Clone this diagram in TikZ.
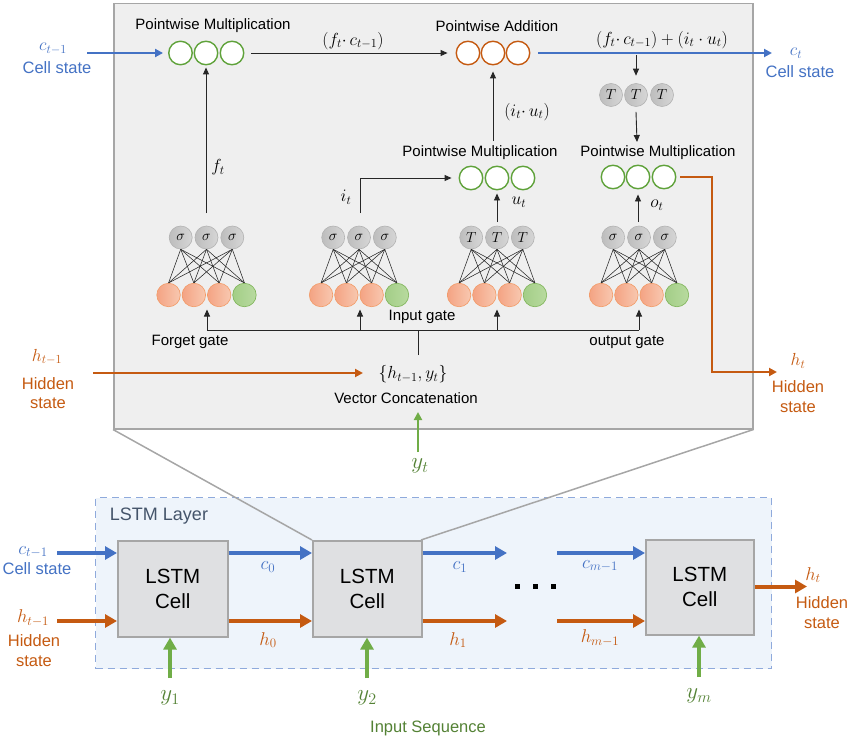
\RequirePackage{fix-cm}
\documentclass[tikz,border=0pt]{standalone}
\usepackage[no-math]{fontspec}
\setmainfont{Liberation Sans}
\usetikzlibrary{arrows.meta}
\definecolor{cblue}{HTML}{4472C4}
\definecolor{corange}{HTML}{C55A11}
\definecolor{cgreen}{HTML}{70AD47}
\definecolor{cdgreen}{HTML}{548235}
\definecolor{panelfill}{HTML}{EFEFEF}
\definecolor{panelline}{HTML}{A6A6A6}
\definecolor{layerfill}{HTML}{EEF4FB}
\definecolor{layerline}{HTML}{8FAADC}
\definecolor{cellfill}{HTML}{DFE0E2}
\definecolor{layertext}{HTML}{44546A}
\definecolor{pmgreen}{HTML}{5FA23A}
\definecolor{orL}{HTML}{F4A383}
\definecolor{orR}{HTML}{F8C8B0}
\definecolor{orD}{HTML}{F29A66}
\definecolor{grL}{HTML}{A3CE87}
\definecolor{grR}{HTML}{B8DA9F}
\definecolor{grD}{HTML}{7DB356}
\definecolor{gyL}{HTML}{BDBDBD}
\definecolor{gyR}{HTML}{D6D6D6}
\definecolor{gyD}{HTML}{B3B3B3}
\newcommand{\setfs}[1]{\fontsize{#1}{#1}\selectfont}
\newcommand{\gatelayer}[3]{%
  \foreach \i in {1,2,3} \node[gc] (#1t\i) at ({#2+(\i-2)*25.8}, 237.5) {$#3$};
  \foreach \j in {1,2,3} \node[oc] (#1b\j) at ({#2+(\j-2.5)*25.3}, 295) {};
  \node[gnc] (#1b4) at ({#2+1.5*25.3}, 295) {};
  \foreach \i in {1,2,3} {\foreach \j in {1,2,3,4} {\draw[net] (#1t\i.south) -- (#1b\j.north);}}
}
\begin{document}
\begin{tikzpicture}[x=1pt,y=-1pt,
  txt/.style={inner sep=0pt, font=\setfs{15}},
  lbl/.style={inner sep=0pt, font=\setfs{16.5}},
  mth/.style={inner sep=0pt, font=\setfs{17.5}},
  bmth/.style={inner sep=0pt, font=\setfs{18.5}},
  ymth/.style={inner sep=0pt, font=\setfs{23}, text=cdgreen},
  pmc/.style={circle, draw=pmgreen, fill=white, line width=1.4pt, minimum size=23.5pt, inner sep=0pt},
  pac/.style={pmc, draw=corange},
  gc/.style={circle, draw=gyD, left color=gyL, right color=gyR, line width=0.6pt, minimum size=23pt, inner sep=0pt, font=\setfs{14.5}},
  oc/.style={circle, draw=orD, left color=orL, right color=orR, line width=0.6pt, minimum size=23.5pt, inner sep=0pt},
  gnc/.style={circle, draw=grD, left color=grL, right color=grR, line width=0.6pt, minimum size=23.5pt, inner sep=0pt},
  net/.style={line width=0.55pt, black!85},
  thinln/.style={line width=0.9pt, black!85},
  thinarr/.style={thinln, -{Triangle[length=7pt,width=6pt]}},
  blarr/.style={line width=2.2pt, cblue, -{Triangle[length=8pt,width=8pt]}},
  orarr/.style={line width=2.2pt, corange, -{Triangle[length=8pt,width=8pt]}},
  garr/.style={line width=2.2pt, cgreen, -{Triangle[length=8pt,width=8pt]}},
  bthick/.style={line width=4pt, cblue, -{Triangle[length=12pt,width=13pt]}},
  othick/.style={line width=4pt, corange, -{Triangle[length=12pt,width=13pt]}},
  gthick/.style={line width=4pt, cgreen, -{Triangle[length=12pt,width=13pt]}},
  panel/.style={draw=panelline, fill=panelfill, line width=1.5pt, inner sep=0pt},
  layer/.style={draw=layerline, fill=layerfill, line width=1.2pt, dash pattern=on 7pt off 5pt, inner sep=0pt},
  cellbox/.style={draw=panelline, fill=cellfill, line width=1.6pt, inner sep=0pt, align=center, font=\fontsize{20.5}{25}\selectfont},
  dotsq/.style={fill=black, inner sep=0pt, minimum size=5pt, rectangle}
]
\useasboundingbox (0,0) rectangle (850,741);

% ---------------- upper panel ----------------
\node[panel, minimum width=639pt, minimum height=425pt, anchor=north west] (panel) at (113,3) {};

% forget multiplication
\node[txt] (fmlab) at (213,26) {Pointwise Multiplication};
\node[pmc] (fm1) at (180.5,53) {};
\node[pmc] (fm2) at (206,53) {};
\node[pmc] (fm3) at (232,53) {};
\node[mth, text=cblue] (ctm1) at (53,49) {$c_{t-1}$};
\node[lbl, text=cblue] (cs1) at (57,68) {Cell state};
\coordinate (cinTop) at (87,53);
\draw[blarr] (cinTop) -- ([xshift=-5pt]fm1.west);

% pointwise addition
\node[txt] (palab) at (497,26) {Pointwise Addition};
\node[pac] (pa1) at (468,53) {};
\node[pac] (pa2) at (493,53) {};
\node[pac] (pa3) at (518,53) {};
\draw[thinarr] ([xshift=7pt]fm3.east) -- ([xshift=-8pt]pa1.west);
\node[mth] (fclab) at (353,41) {$(f_t{\cdot}\,c_{t-1})$};
\coordinate (ctend) at (772,53);
\draw[blarr] ([xshift=8pt]pa3.east) -- (ctend);
\node[mth, text=cblue] (ctlab) at (796,53) {$c_t$};
\node[lbl, text=cblue] (cs2) at (800,72) {Cell state};
\node[mth] (sumlab) at (662,40) {$(f_t{\cdot}\,c_{t-1})+(i_t\cdot u_t)$};

% tanh of cell state
\node[gc] (tc1) at (611,95) {$T$};
\node[gc] (tc2) at (636,95) {$T$};
\node[gc] (tc3) at (662,95) {$T$};
\coordinate (sumdrop) at (636,55);
\draw[thinarr] (sumdrop) -- ([yshift=7.5pt]tc2.north);

% output multiplication
\node[txt] (omlab) at (658,153) {Pointwise Multiplication};
\node[pmc] (om1) at (613,177) {};
\node[pmc] (om2) at (638,177) {};
\node[pmc] (om3) at (664,177) {};
\coordinate (tdown) at (637,142);
\draw[thinarr] ([yshift=-5pt]tc2.south) -- (tdown);
\coordinate (hb1) at (712,177);
\coordinate (hb2) at (712,372);
\coordinate (htend) at (777,372);
\draw[orarr] ([xshift=4pt]om3.east) -- (hb1) -- (hb2) -- (htend);
\node[mth, text=corange] (httop) at (798,361) {$h_t$};
\node[lbl, text=corange] (hid2) at (798,387) {Hidden};
\node[lbl, text=corange] (st2) at (798,407) {state};

% input multiplication
\node[txt] (imlab) at (480,153) {Pointwise Multiplication};
\node[pmc] (im1) at (471,178) {};
\node[pmc] (im2) at (497,178) {};
\node[pmc] (im3) at (523,178) {};
\coordinate (iustart) at (493,141);
\draw[thinarr] (iustart) -- ([yshift=-6pt]pa2.south);
\node[mth] (iulab) at (527,112) {$(i_t{\cdot}\,u_t)$};

% gates
\gatelayer{fg}{206.5}{\sigma}
\gatelayer{ig}{359}{\sigma}
\gatelayer{tg}{497}{T}
\gatelayer{og}{639}{\sigma}

% gate outputs
\coordinate (fgout) at (206,213);
\draw[thinarr] (fgout) -- ([yshift=-2pt]fm2.south);
\node[mth] (ftlab) at (218,167) {$f_t$};
\coordinate (igout) at (360,213);
\coordinate (igbend) at (360,178);
\draw[thinarr] (igout) -- (igbend) -- ([xshift=-7pt]im1.west);
\node[mth] (itlab) at (346,197) {$i_t$};
\coordinate (tgout) at (497,222);
\draw[thinarr] (tgout) -- ([yshift=-3pt]im2.south);
\node[mth] (utlab) at (519,202) {$u_t$};
\coordinate (ogout) at (638,222);
\draw[thinarr] (ogout) -- ([yshift=-5pt]om2.south);
\node[mth] (otlab) at (657,205) {$o_t$};

% gate labels
\node[txt] (fglab) at (190,342) {Forget gate};
\node[txt] (iglab) at (422,317) {Input gate};
\node[txt] (oglab) at (627,342) {output gate};

% bus
\coordinate (fgbus) at (207,330);
\coordinate (igbus) at (360,330);
\coordinate (tgbus) at (497,330);
\coordinate (ogbus) at (639,330);
\coordinate (ccbus) at (418,330);
\coordinate (fgin) at (207,309.5);
\coordinate (igin) at (360,309.5);
\coordinate (tgin) at (497,309.5);
\coordinate (ogin) at (639,309.5);
\draw[thinln] (fgbus) -- (ogbus);
\draw[thinarr] (fgbus) -- (fgin);
\draw[thinarr] (igbus) -- (igin);
\draw[thinarr] (tgbus) -- (tgin);
\draw[thinarr] (ogbus) -- (ogin);

% concatenation
\node[mth] (concat) at (413,374) {$\{h_{t-1},y_t\}$};
\node[txt] (vclab) at (406,398) {Vector Concatenation};
\coordinate (ccup) at (418,355);
\draw[thinln] (ccup) -- (ccbus);
\coordinate (hin) at (93,373);
\coordinate (hinend) at (363,373);
\draw[orarr] (hin) -- (hinend);
\node[mth, text=corange] (htm1) at (47,357) {$h_{t-1}$};
\node[lbl, text=corange] (hid1) at (48,384) {Hidden};
\node[lbl, text=corange] (st1) at (48,403) {state};
\coordinate (ytstart) at (418,452);
\coordinate (ytend) at (418,412);
\draw[garr] (ytstart) -- (ytend);
\node[ymth] (ytlab) at (420,466) {$y_t$};

% ---------------- lower layer ----------------
\node[layer, minimum width=676pt, minimum height=171pt, anchor=north west] (layer) at (95,497) {};
\node[inner sep=0pt, font=\setfs{18}, text=layertext] (layerlab) at (159,516) {LSTM Layer};

\coordinate (c2nw) at (312,540);
\coordinate (c2ne) at (421,540);
\draw[panelline, line width=1.5pt] (panel.south west) -- (c2nw);
\draw[panelline, line width=1.5pt] (panel.south east) -- (c2ne);
\node[cellbox, minimum width=110pt, minimum height=96pt, anchor=north west] (cell1) at (117,540) {LSTM\\Cell};
\node[cellbox, minimum width=109pt, minimum height=96pt, anchor=north west] (cell2) at (c2nw) {LSTM\\Cell};
\node[cellbox, minimum width=108pt, minimum height=95pt, anchor=north west] (cell3) at (645,539) {LSTM\\Cell};

\coordinate (cin) at (57,553);
\coordinate (hinb) at (57,621);
\coordinate (c1end) at (507,553);
\coordinate (h1end) at (507,621);
\coordinate (cmstart) at (557,553);
\coordinate (hmstart) at (557,621);
\coordinate (htout) at (807,586.5);

\draw[bthick] (cin) -- (cell1.west |- cin);
\draw[bthick] (cell1.east |- cin) -- (cell2.west |- cin);
\draw[bthick] (cell2.east |- cin) -- (c1end);
\draw[bthick] (cmstart) -- (cell3.west |- cmstart);
\draw[othick] (hinb) -- (cell1.west |- hinb);
\draw[othick] (cell1.east |- hinb) -- (cell2.west |- hinb);
\draw[othick] (cell2.east |- hinb) -- (h1end);
\draw[othick] (hmstart) -- (cell3.west |- hmstart);
\draw[othick] (cell3.east |- htout) -- (htout);

\node[bmth, text=cblue] (c0lab) at (268,567) {$c_0$};
\node[bmth, text=corange] (h0lab) at (268,640) {$h_0$};
\node[bmth, text=cblue] (c1lab) at (460,567) {$c_1$};
\node[bmth, text=corange] (h1lab) at (458,640) {$h_1$};
\node[bmth, text=cblue] (cmlab) at (600,566) {$c_{m-1}$};
\node[bmth, text=corange] (hmlab) at (600,638) {$h_{m-1}$};

\node[dotsq] (d1) at (517,586.5) {};
\node[dotsq] (d2) at (535,586.5) {};
\node[dotsq] (d3) at (553,586.5) {};

\node[bmth, text=cblue] (ctm1b) at (33,552) {$c_{t-1}$};
\node[lbl, text=cblue] (cs3) at (37,569) {Cell state};
\node[bmth, text=corange] (htm1b) at (33,618) {$h_{t-1}$};
\node[lbl, text=corange] (hid3) at (34,641) {Hidden};
\node[lbl, text=corange] (st3) at (34,661) {state};

\node[bmth, text=corange] (htb) at (813,575) {$h_t$};
\node[lbl, text=corange] (hid4) at (822,603) {Hidden};
\node[lbl, text=corange] (st4) at (822,623) {state};

\coordinate (y1s) at (170,678);
\coordinate (y2s) at (367,678);
\coordinate (yms) at (699,677);
\draw[gthick] (y1s) -- (y1s |- cell1.south);
\draw[gthick] (y2s) -- (y2s |- cell2.south);
\draw[gthick] (yms) -- (yms |- cell3.south);
\node[ymth] (y1lab) at (170,698) {$y_1$};
\node[ymth] (y2lab) at (367,698) {$y_2$};
\node[ymth] (ymlab) at (699,696) {$y_m$};
\node[inner sep=0pt, font=\setfs{16.5}, text=cdgreen] (inseq) at (428,728) {Input Sequence};
\end{tikzpicture}
\end{document}
